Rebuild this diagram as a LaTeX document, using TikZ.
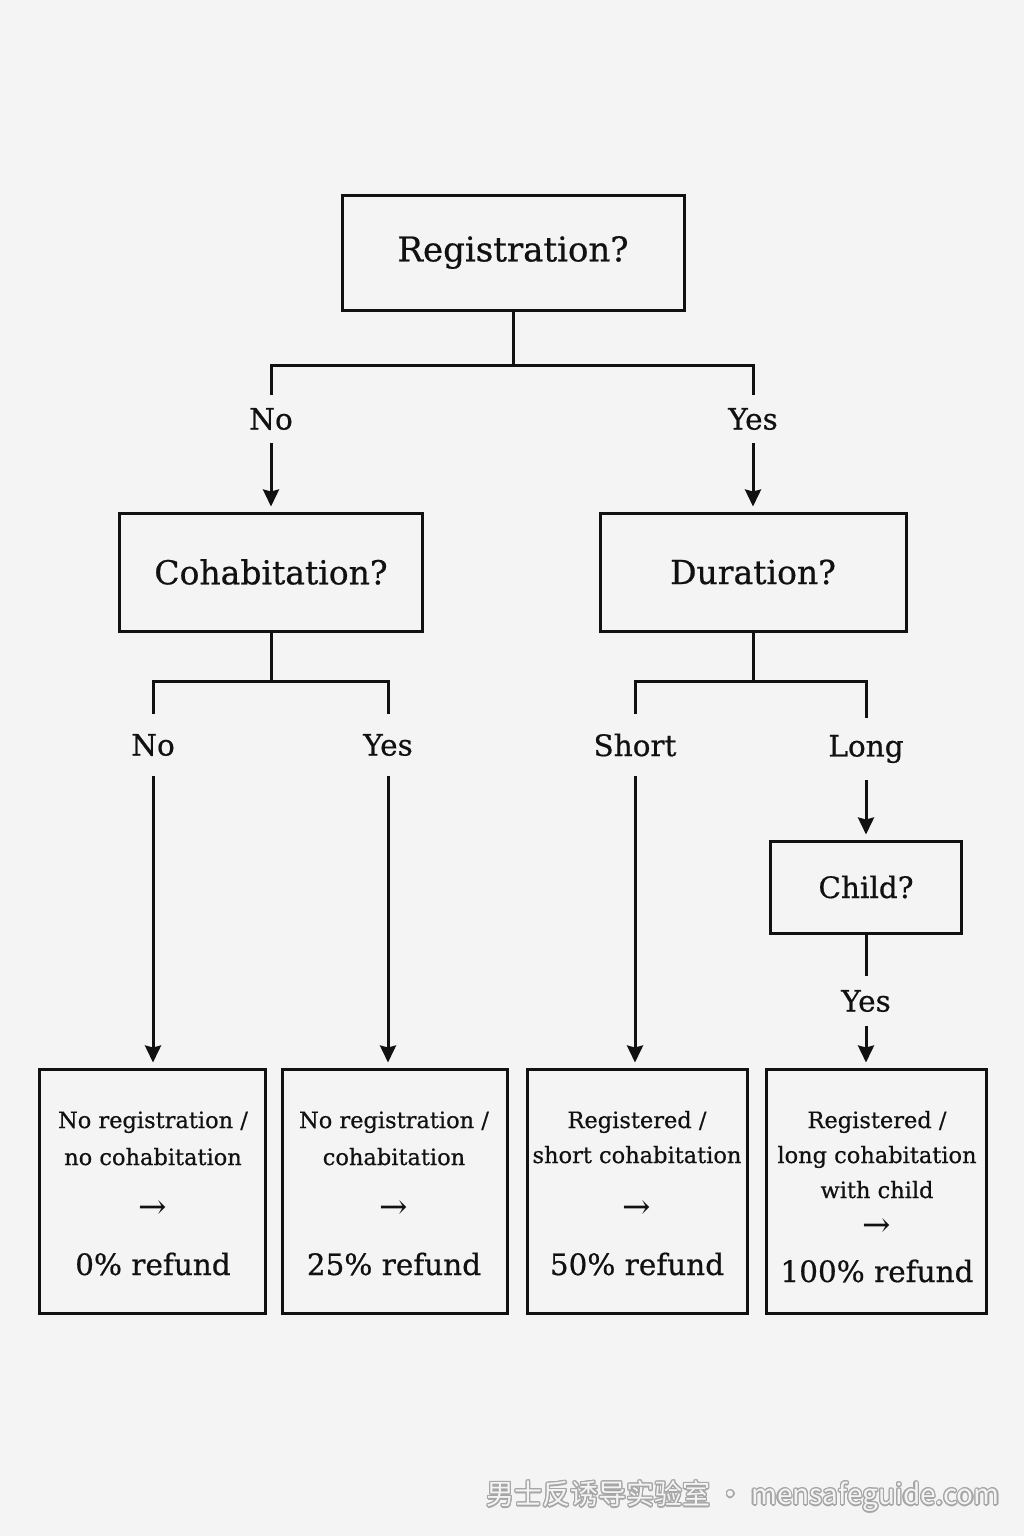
\documentclass[tikz,border=0pt]{standalone}
\usepackage{fontspec}
\setmainfont{DejaVu Serif}[FakeBold=0.6]
\newfontfamily\arrfont{DejaVu Serif}
\newfontfamily\cjk{Noto Sans CJK SC}
\usepackage{contour}
\contourlength{1.2pt}
\usetikzlibrary{arrows.meta}
\definecolor{bgc}{HTML}{F4F4F4}
\definecolor{ink}{HTML}{111111}
\begin{document}
\begin{tikzpicture}[x=1pt,y=-1pt,
  box/.style={draw=ink, line width=3pt, inner sep=0pt, text=ink},
  lbl/.style={inner sep=0pt, text=ink, font=\fontsize{29.5}{32}\selectfont},
  conn/.style={draw=ink, line width=3pt},
  arr/.style={draw=ink, line width=3pt, -{Stealth[length=17pt,width=16pt,inset=2pt]}, shorten >=5pt},
  desc/.style={inner sep=0pt, anchor=base, text=ink, font=\fontsize{22.5}{26}\selectfont},
  res/.style={inner sep=0pt, anchor=base, text=ink, font=\fontsize{29.5}{32}\selectfont},
  rarr/.style={inner sep=0pt, text=ink, font=\arrfont\fontsize{34}{36}\selectfont},
  big/.style={font=\fontsize{34}{38}\selectfont},
  mid/.style={font=\fontsize{33}{36}\selectfont}
]
\fill[bgc] (0,0) rectangle (1024,1536);
\useasboundingbox (0,0) rectangle (1024,1536);

% top decision
\node[box, big, minimum width=342pt, minimum height=115pt] (reg) at (513,252.5) {Registration?};
\coordinate (b1) at (513,365);
\node[lbl, minimum height=48pt] (no1) at (271,419) {No};
\node[lbl, minimum height=48pt] (yes1) at (753,419) {Yes};
\draw[conn] (reg.south) -- (b1);
\draw[conn] (no1.north) |- (b1) -| (yes1.north);

% second level
\node[box, mid, minimum width=303pt, minimum height=118pt] (cohab) at (271,572) {Cohabitation?};
\node[box, mid, minimum width=306pt, minimum height=118pt] (dur) at (753,572) {Duration?};
\draw[arr] (no1.south) -- (cohab.north);
\draw[arr] (yes1.south) -- (dur.north);

\coordinate (b2) at (271,681);
\coordinate (b3) at (753,681);
\node[lbl, minimum height=62pt] (no2) at (153,745) {No};
\node[lbl, minimum height=62pt] (yes2) at (388,745) {Yes};
\node[lbl, minimum height=62pt] (short) at (635,745) {Short};
\node[lbl, minimum height=62pt] (long) at (866,749) {Long};
\draw[conn] (cohab.south) -- (b2);
\draw[conn] (no2.north) |- (b2) -| (yes2.north);
\draw[conn] (dur.south) -- (b3);
\draw[conn] (short.north) |- (b3) -| (long.north);

% child decision
\node[box, lbl, draw=ink, line width=3pt, minimum width=191pt, minimum height=92pt] (child) at (866,887) {Child?};
\draw[arr] (long.south) -- (child.north);
\node[lbl, minimum height=50pt] (yes3) at (866,1001) {Yes};
\draw[conn] (child.south) -- (yes3.north);

% results
\node[box, minimum width=226pt, minimum height=244pt] (r1) at (152,1191) {};
\node[box, minimum width=225pt, minimum height=244pt] (r2) at (394.5,1191) {};
\node[box, minimum width=220pt, minimum height=244pt] (r3) at (637,1191) {};
\node[box, minimum width=220pt, minimum height=244pt] (r4) at (876,1191) {};

\draw[arr] (no2.south) -- (no2.south |- r1.north);
\draw[arr] (yes2.south) -- (yes2.south |- r2.north);
\draw[arr] (short.south) -- (short.south |- r3.north);
\draw[arr] (yes3.south) -- (yes3.south |- r4.north);

\node[desc] (r1a) at (153,1128) {No registration /};
\node[desc] (r1b) at (153,1165) {no cohabitation};
\node[rarr] (r1c) at (153,1210) {→};
\node[res] (r1d) at (153,1275) {0\% refund};

\node[desc] (r2a) at (394,1128) {No registration /};
\node[desc] (r2b) at (394,1165) {cohabitation};
\node[rarr] (r2c) at (394,1210) {→};
\node[res] (r2d) at (394,1275) {25\% refund};

\node[desc] (r3a) at (637,1128) {Registered /};
\node[desc] (r3b) at (637,1163) {short cohabitation};
\node[rarr] (r3c) at (637,1210) {→};
\node[res] (r3d) at (637,1275) {50\% refund};

\node[desc] (r4a) at (877,1128) {Registered /};
\node[desc] (r4b) at (877,1163) {long cohabitation};
\node[desc] (r4c) at (877,1198) {with child};
\node[rarr] (r4d) at (877,1228) {→};
\node[res] (r4e) at (877,1282) {100\% refund};

% watermark
\node[anchor=east, inner sep=0pt, font=\cjk\fontsize{28}{30}\selectfont] (wm) at (1000,1497) {\contour{gray!70}{\textcolor{bgc}{男士反诱导实验室 · mensafeguide.com}}};
\end{tikzpicture}
\end{document}
